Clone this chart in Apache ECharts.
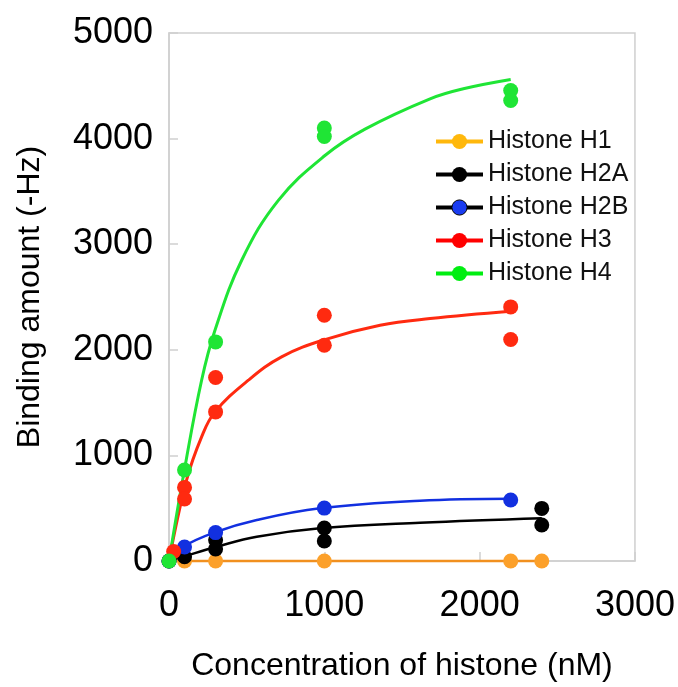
<!DOCTYPE html>
<html>
<head>
<meta charset="utf-8">
<script src="https://cdn.jsdelivr.net/npm/echarts@6/dist/echarts.min.js"></script>
<style>
html, body { margin: 0; padding: 0; background: #fff; }
#chart { width: 678px; height: 687px; }
</style>
</head>
<body>
<div id="chart"></div>
<script>
// measured points (concentration nM, binding -Hz)
var h1X = [0, 100, 300, 1000, 2200, 2400];
var h1Y = [0, 0, 0, 0, 0, 0];

var h2aX = [0, 100, 300, 300, 1000, 1000, 2400, 2400];
var h2aY = [0, 40, 199, 114, 312, 189, 498, 341];

var h2bX = [0, 100, 300, 1000, 2200];
var h2bY = [0, 133, 269, 501, 577];

var h3X = [30, 100, 100, 300, 300, 1000, 1000, 2200, 2200];
var h3Y = [90, 697, 587, 1738, 1412, 2327, 2043, 2406, 2097];

var h4X = [0, 100, 300, 1000, 1000, 2200, 2200];
var h4Y = [0, 862, 2075, 4100, 4020, 4456, 4361];

// fitted curves
var h2aCurveX = [0, 92, 307, 565, 972, 1616, 2400];
var h2aCurveY = [0, 41, 135, 230, 309, 362, 405];

var h2bCurveX = [0, 92, 307, 565, 972, 1616, 2200];
var h2bCurveY = [0, 135, 277, 388, 499, 571, 590];

var h3CurveX = [0, 114, 210, 296, 511, 725, 1004, 1359, 1681, 2200];
var h3CurveY = [0, 770, 1176, 1412, 1712, 1933, 2097, 2233, 2296, 2365];

var h4CurveX = [0, 103, 210, 296, 468, 704, 1004, 1262, 1681, 1895, 2200];
var h4CurveY = [0, 892, 1712, 2185, 2848, 3415, 3840, 4090, 4377, 4472, 4560];

var names = ['Histone H1', 'Histone H2A', 'Histone H2B', 'Histone H3', 'Histone H4'];
var xTicks = [0, 1000, 2000, 3000];
var yTicks = [0, 1000, 2000, 3000, 4000, 5000];

function pairs (xs, ys) {
  var out = [];
  for (var i = 0; i < xs.length; i++) out.push([xs[i], ys[i]]);
  return out;
}

var font = 'Liberation Sans, Arial, Helvetica, sans-serif';
var frame = '#cfcfcf';

function curve (name, xs, ys, color, width) {
  return {
    name: name,
    type: 'line',
    data: pairs(xs, ys),
    smooth: 0.4,
    symbol: 'circle',
    symbolSize: 15,
    showSymbol: false,
    clip: false,
    lineStyle: { color: color, width: width },
    itemStyle: { color: color },
    z: 2
  };
}

function dots (name, xs, ys, color) {
  return {
    name: name,
    type: 'scatter',
    data: pairs(xs, ys),
    symbol: 'circle',
    symbolSize: 15,
    clip: false,
    itemStyle: { color: color, opacity: 1 },
    z: 3
  };
}

var option = {
  animation: false,
  grid: {
    left: 169, top: 33, right: 43, bottom: 126,
    show: true, borderColor: frame, borderWidth: 1.5
  },
  legend: {
    orient: 'vertical',
    left: 429,
    top: 124,
    itemWidth: 47,
    itemHeight: 19,
    itemGap: 8,
    textStyle: { fontFamily: font, fontSize: 25, color: '#111' },
    data: [
      { name: names[0], itemStyle: { color: '#ffb80c' }, lineStyle: { color: '#ffb80c', width: 4 } },
      { name: names[1], itemStyle: { color: '#000' }, lineStyle: { color: '#000', width: 4 } },
      { name: names[2], itemStyle: { color: '#1a3cf0', borderColor: '#000', borderWidth: 1 }, lineStyle: { color: '#000', width: 4 } },
      { name: names[3], itemStyle: { color: '#ff0000' }, lineStyle: { color: '#ff0000', width: 4 } },
      { name: names[4], itemStyle: { color: '#00ee11' }, lineStyle: { color: '#00ee11', width: 4 } }
    ]
  },
  xAxis: {
    type: 'value',
    min: xTicks[0],
    max: xTicks[xTicks.length - 1],
    interval: 1000,
    name: 'Concentration of histone (nM)',
    nameLocation: 'middle',
    nameGap: 89,
    nameTextStyle: { fontFamily: font, fontSize: 32, color: '#000' },
    axisLine: { lineStyle: { color: frame, width: 1.5 } },
    axisTick: { inside: true, length: 9, lineStyle: { color: frame, width: 1.5 } },
    axisLabel: { fontFamily: font, fontSize: 36, color: '#000', margin: 27, formatter: function (v) { return String(v); } },
    splitLine: { show: false }
  },
  yAxis: {
    type: 'value',
    min: yTicks[0],
    max: yTicks[yTicks.length - 1],
    interval: 1000,
    name: 'Binding amount (-Hz)',
    nameLocation: 'middle',
    nameGap: 123,
    nameTextStyle: { fontFamily: font, fontSize: 32, color: '#000' },
    axisLine: { lineStyle: { color: frame, width: 1.5 } },
    axisTick: { inside: true, length: 9, lineStyle: { color: frame, width: 1.5 } },
    axisLabel: { fontFamily: font, fontSize: 36, color: '#000', margin: 16, formatter: function (v) { return String(v); } },
    splitLine: { show: false }
  },
  series: [
    {
      name: names[0],
      type: 'line',
      data: pairs(h1X, h1Y),
      symbol: 'circle',
      symbolSize: 15,
      clip: false,
      lineStyle: { color: '#f1901f', width: 2.5 },
      itemStyle: { color: '#fca02a' },
      z: 2
    },
    curve(names[1], h2aCurveX, h2aCurveY, '#000000', 2.5),
    dots(names[1], h2aX, h2aY, '#000000'),
    curve(names[2], h2bCurveX, h2bCurveY, '#1230e0', 2.5),
    dots(names[2], h2bX, h2bY, '#1230e0'),
    curve(names[3], h3CurveX, h3CurveY, '#ff2a10', 3),
    dots(names[3], h3X, h3Y, '#ff2a10'),
    curve(names[4], h4CurveX, h4CurveY, '#1fe535', 3),
    dots(names[4], h4X, h4Y, '#1fe535')
  ]
};

var myChart = echarts.init(document.getElementById('chart'));
myChart.setOption(option);
</script>
</body>
</html>
